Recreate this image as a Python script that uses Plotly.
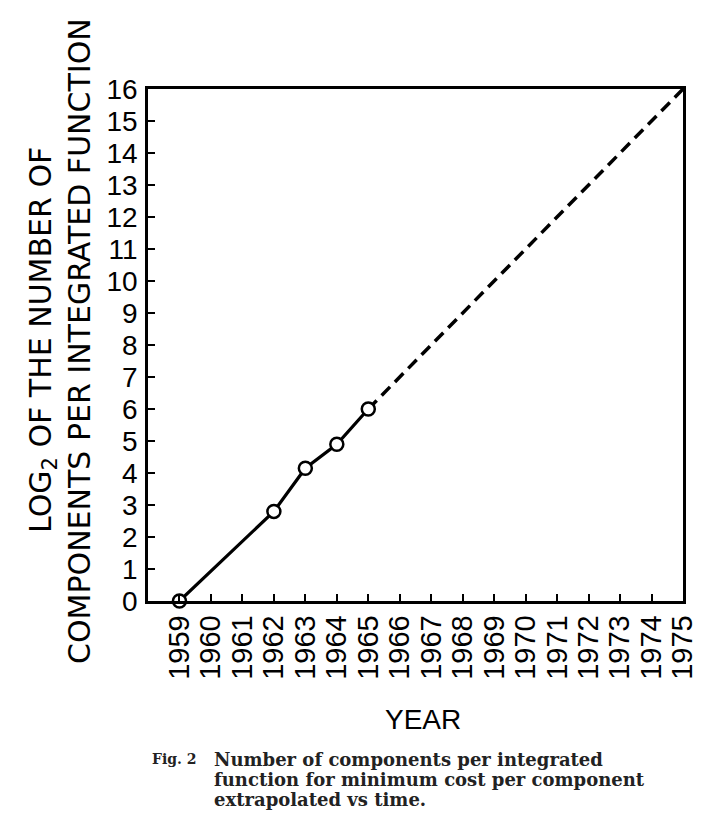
import plotly.graph_objects as go

YEARS = list(range(1959, 1976))
MEASURED_YEARS = [1959, 1962, 1963, 1964, 1965]
MEASURED_LOG2 = [0, 2.8, 4.15, 4.9, 6.0]
EXTRAP_YEARS = [1965, 1975]
EXTRAP_LOG2 = [6.0, 16]
Y_TICKS = list(range(0, 17))

CAPTION_LINES = [
    "Number of components per integrated",
    "function for minimum cost per component",
    "extrapolated vs time.",
]

# page body has an 8px margin, so the figure is a bit smaller than the window
OFF = 8
W, H = 704, 819
L, R, T, B = 140, 29, 81, 226
PW, PH = W - L - R, H - T - B


def px(x):
    # screen x -> paper x
    return (x - OFF - L) / PW


def py(y):
    # screen y -> paper y
    return (OFF + T + PH - y) / PH


SANS = "Liberation Sans, Arial, sans-serif"
TITLE = "DejaVu Sans, Verdana, sans-serif"
SERIF = "DejaVu Serif, Georgia, serif"

fig = go.Figure()

fig.add_trace(go.Scatter(
    x=EXTRAP_YEARS, y=EXTRAP_LOG2, mode="lines",
    line=dict(color="black", width=3.5, dash="12px,7px"),
    cliponaxis=False, showlegend=False,
))
fig.add_trace(go.Scatter(
    x=MEASURED_YEARS, y=MEASURED_LOG2, mode="lines+markers",
    line=dict(color="black", width=3.2),
    marker=dict(symbol="circle", size=13, color="white",
                line=dict(color="black", width=2.5)),
    cliponaxis=False, showlegend=False,
))

fig.update_xaxes(
    range=[1958, 1975], tickvals=YEARS, ticktext=[str(y) for y in YEARS],
    tickangle=-90, ticks="inside", ticklen=7, tickwidth=2, tickcolor="black",
    showline=True, linecolor="black", linewidth=2.5, mirror=True,
    showgrid=False, zeroline=False,
    tickfont=dict(family=SANS, size=29, color="black"),
    ticklabelstandoff=0,
)
fig.update_yaxes(
    range=[0, 16], tickvals=Y_TICKS,
    ticks="inside", ticklen=7, tickwidth=2, tickcolor="black",
    showline=True, linecolor="black", linewidth=2.5, mirror=True,
    showgrid=False, zeroline=False,
    tickfont=dict(family=SANS, size=28, color="black"),
    ticklabelstandoff=2,
)

# two-line y title
fig.add_annotation(text="LOG<sub>2</sub> OF THE NUMBER OF", textangle=-90,
                   xref="paper", yref="paper", x=px(42), y=py(340),
                   xanchor="center", yanchor="middle", showarrow=False,
                   font=dict(family=TITLE, size=30, color="black"))
fig.add_annotation(text="COMPONENTS PER INTEGRATED FUNCTION", textangle=-90,
                   xref="paper", yref="paper", x=px(79), y=py(341),
                   xanchor="center", yanchor="middle", showarrow=False,
                   font=dict(family=TITLE, size=30, color="black"))

fig.add_annotation(text="YEAR", xref="paper", yref="paper",
                   x=px(423), y=py(719), xanchor="center", yanchor="middle",
                   showarrow=False, font=dict(family=SANS, size=28, color="black"))

# caption
fig.add_annotation(text="<b>Fig. 2</b>", xref="paper", yref="paper",
                   x=px(150), y=py(759), xanchor="left", yanchor="middle",
                   showarrow=False, font=dict(family=SERIF, size=14, color="#222"))
for i, line in enumerate(CAPTION_LINES):
    fig.add_annotation(text="<b>" + line + "</b>", xref="paper", yref="paper",
                       x=px(212), y=py(759 + 20 * i), xanchor="left", yanchor="middle",
                       showarrow=False, font=dict(family=SERIF, size=18, color="#222"))

fig.update_layout(
    width=W, height=H,
    margin=dict(l=L, r=R, t=T, b=B),
    paper_bgcolor="white", plot_bgcolor="white",
)

fig.write_html("out.html")
